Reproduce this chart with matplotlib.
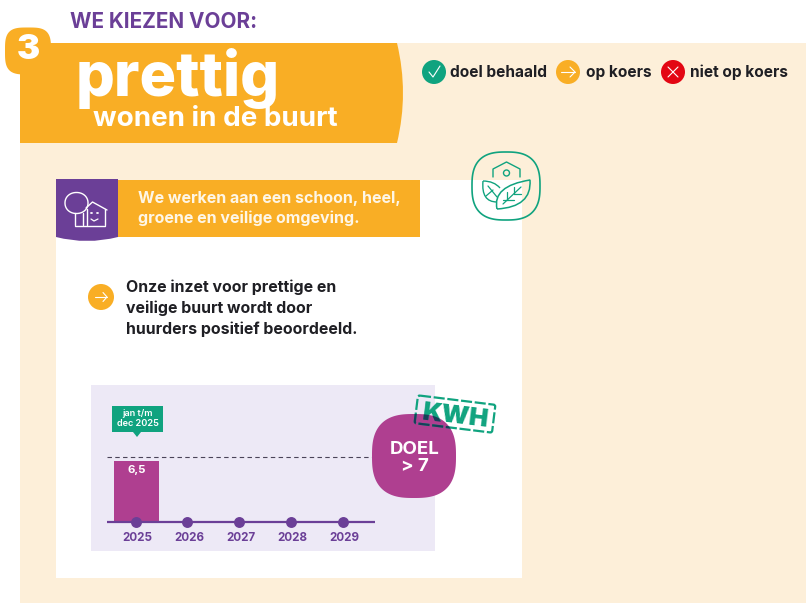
import numpy as np
import matplotlib
matplotlib.use("Agg")
import matplotlib.pyplot as plt
from matplotlib.patches import Rectangle, Circle, Polygon, PathPatch, FancyBboxPatch
from matplotlib.path import Path
from matplotlib.textpath import TextPath
from matplotlib.font_manager import FontProperties
from matplotlib.transforms import ScaledTranslation, Affine2D

# ---- data ----
years = ["2025", "2026", "2027", "2028", "2029"]
values = [6.5]
value_labels = ["6,5"]
goal = 7
goal_text = "DOEL\n> 7"
period_label = "jan t/m\ndec 2025"
legend_items = ["doel behaald", "op koers", "niet op koers"]

CREAM = "#FDEFD9"; ORANGE = "#F9AE25"; PURPLE = "#6B3F97"; MAGENTA = "#AF3F90"
GREEN = "#10A37F"; LAV = "#EDE9F6"; RED = "#E30613"; DARK = "#1F1F24"
FONT = "Inter"
plt.rcParams["font.family"] = [FONT, "DejaVu Sans"]

W, H = 806, 603
fig = plt.figure(figsize=(W / 100, H / 100), dpi=100, facecolor="white")


def pixel_axes(z):
    a = fig.add_axes([0, 0, 1, 1], zorder=z)
    a.set_xlim(0, W); a.set_ylim(H, 0); a.axis("off"); a.patch.set_alpha(0)
    return a


back = pixel_axes(0)
front = pixel_axes(2)


def blob(a, cx, cy, rx, ry, color=None, n=3.0, ec="none", lw=0, z=3):
    t = np.linspace(0, 2 * np.pi, 200)
    x = rx * np.sign(np.cos(t)) * np.abs(np.cos(t)) ** (2 / n)
    y = ry * np.sign(np.sin(t)) * np.abs(np.sin(t)) ** (2 / n)
    p = Polygon(np.c_[cx + x, cy + y], closed=True, fc=color or "none", ec=ec, lw=lw, zorder=z)
    a.add_patch(p)
    return p


def line(a, xs, ys, c, lw=1.2, z=6):
    a.plot(xs, ys, color=c, lw=lw, solid_capstyle="round", solid_joinstyle="round", zorder=z)


def curve(a, pts, c, lw=1.1, z=6):
    """Chain of quadratic curves: start, ctrl, end, ctrl, end ..."""
    codes = [Path.MOVETO] + [Path.CURVE3] * (len(pts) - 1)
    a.add_patch(PathPatch(Path(pts, codes), fc="none", ec=c, lw=lw, zorder=z))


# ---- page background ----
back.add_patch(Rectangle((20, 43), W - 20, H - 43, fc=CREAM, ec="none", zorder=1))
# banner
verts = [(20, 43), (397, 43), (409, 93), (397, 143), (20, 143), (20, 43)]
codes = [Path.MOVETO, Path.LINETO, Path.CURVE3, Path.CURVE3, Path.LINETO, Path.CLOSEPOLY]
back.add_patch(PathPatch(Path(verts, codes), fc=ORANGE, ec="none", zorder=2))
blob(back, 28, 51, 23, 23.5, ORANGE, n=3.4)
back.text(28.5, 50, "3", color="white", fontsize=25, fontweight="black", ha="center", va="center", zorder=4)
back.text(70, 22, "WE KIEZEN VOOR:", color=PURPLE, fontsize=14.9, fontweight="bold", ha="left", va="center", zorder=4)
back.text(76, 96, "prettig", color="white", fontsize=44, fontweight="heavy", ha="left", va="baseline", zorder=4)
back.text(93, 126.5, "wonen in de buurt", color="white", fontsize=20, fontweight="bold", ha="left", va="baseline", zorder=4)

# ---- legend ----
cx_leg = [434, 568, 673]
tx_leg = [450, 586, 690]
col_leg = [GREEN, ORANGE, RED]
for cx, tx, col, lab in zip(cx_leg, tx_leg, col_leg, legend_items):
    back.add_patch(Circle((cx, 72), 12, fc=col, ec="none", zorder=4))
    back.text(tx, 72.5, lab, color=DARK, fontsize=11.1, fontweight="bold", ha="left", va="center", zorder=4)
line(back, [429, 433, 440], [72, 77, 66], "white", 0.8)
line(back, [561, 575], [72, 72], "white", 0.8)
line(back, [570, 575, 570], [67, 72, 77], "white", 0.8)
line(back, [668, 678], [67, 77], "white", 0.8)
line(back, [668, 678], [77, 67], "white", 0.8)

# ---- card ----
back.add_patch(Rectangle((56, 180), 466, 398, fc="white", ec="none", zorder=2))
back.add_patch(Rectangle((118, 180), 302, 57, fc=ORANGE, ec="none", zorder=3))
pv = [(56, 179), (118, 179), (118, 237), (87, 245), (56, 237), (56, 179)]
pc = [Path.MOVETO, Path.LINETO, Path.LINETO, Path.CURVE3, Path.CURVE3, Path.CLOSEPOLY]
back.add_patch(PathPatch(Path(pv, pc), fc=PURPLE, ec="none", zorder=3))
back.text(138, 198, "We werken aan een schoon, heel,", color="#FEF6E6", fontsize=11.5, fontweight="bold", ha="left", va="center", zorder=4)
back.text(138, 218.5, "groene en veilige omgeving.", color="#FEF6E6", fontsize=11.5, fontweight="bold", ha="left", va="center", zorder=4)
# tree + house icon
blob(back, 76.5, 203, 11.5, 10.5, None, n=2.1, ec="white", lw=1.0, z=5)
line(back, [75, 75], [213, 225], "white", 1.0)
line(back, [83, 83], [213, 225], "white", 1.0)
line(back, [75, 105], [225.5, 225.5], "white", 1.0)
line(back, [86, 92.5, 107], [208, 202, 210], "white", 1.0)
line(back, [87, 87], [209, 225], "white", 1.0)
line(back, [105, 105], [209, 225], "white", 1.0)
line(back, [91, 91.5], [213, 213], "white", 1.3)
line(back, [97, 97.5], [213, 213], "white", 1.3)
line(back, [91, 94, 98], [219, 221, 219], "white", 0.9)

# goal statement
back.add_patch(Circle((101, 297), 13, fc=ORANGE, ec="none", zorder=4))
line(back, [95, 107], [297, 297], "white", 0.8)
line(back, [103, 107, 103], [292.5, 297, 301.5], "white", 0.8)
for y, s in zip([287, 308, 329], ["Onze inzet voor prettige en", "veilige buurt wordt door", "huurders positief beoordeeld."]):
    back.text(126, y, s, color=DARK, fontsize=11.45, fontweight="bold", ha="left", va="center", zorder=4)

# green leaf icon
blob(front, 506, 186, 34, 34, None, n=2.7, ec=GREEN, lw=1.2, z=6)
line(front, [493, 493, 506.5, 520, 520], [177, 169, 162, 169, 177], GREEN, 1.0)
front.add_patch(Circle((506.5, 173), 3, fc="none", ec=GREEN, lw=1.0, zorder=6))
curve(front, [(497, 209), (492, 186), (530, 180), (532, 207), (497, 209)], GREEN, 1.1)
line(front, [503, 521], [204, 187], GREEN, 0.9)
line(front, [507, 507], [192, 200], GREEN, 0.9)
line(front, [503, 514], [200, 200], GREEN, 0.9)
line(front, [514, 514], [187, 194], GREEN, 0.9)
line(front, [514, 521], [194, 194], GREEN, 0.9)
curve(front, [(483, 181), (481, 202), (497, 202)], GREEN, 1.0)
curve(front, [(483, 181), (494, 181), (500, 188)], GREEN, 1.0)
line(front, [488, 497], [186, 197], GREEN, 0.9)
line(front, [486, 493], [196, 190], GREEN, 0.9)

# ---- chart panel ----
back.add_patch(Rectangle((91, 385), 344, 166, fc=LAV, ec="none", zorder=4))

# data axes: x index 0..4 spaced 51.7 px, y scale about 9.35 px per unit
ax_l, ax_r, ax_b, ax_t = 107, 375, 522, 400
ax = fig.add_axes([ax_l / W, 1 - ax_b / H, (ax_r - ax_l) / W, (ax_b - ax_t) / H], zorder=1)
ax.patch.set_alpha(0)
step = 51.7
ax.set_xlim((ax_l - 135.7) / step, (ax_r - 135.7) / step)
ax.set_ylim(0, (ax_b - ax_t) / 9.35)
positions = np.arange(len(years))
bars = ax.bar(positions[:len(values)] + 0.015, values, width=0.87, color=MAGENTA, zorder=2)
for b, lab in zip(bars, value_labels):
    ax.annotate(lab, (b.get_x() + b.get_width() / 2, b.get_height()), xytext=(0, -6.5), textcoords="offset points",
                ha="center", va="center", color="white", fontsize=8.2, fontweight="bold")
ax.axhline(goal, color="#4A4458", lw=0.8, dashes=(4, 3), zorder=1)
ax.scatter(positions, np.zeros(len(years)), s=62, color=PURPLE, zorder=4, clip_on=False, linewidths=0)
for s in ["top", "left", "right"]:
    ax.spines[s].set_visible(False)
ax.spines["bottom"].set_color(PURPLE); ax.spines["bottom"].set_linewidth(1.6)
ax.spines["bottom"].set_capstyle("butt")
ax.set_yticks([])
ax.set_xticks(positions, years)
ax.tick_params(axis="x", length=0, pad=7.5, labelcolor=PURPLE, labelsize=8.4)
off = ScaledTranslation(1.2 / 72, 0, fig.dpi_scale_trans)
for t in ax.get_xticklabels():
    t.set_fontweight("bold")
    t.set_transform(t.get_transform() + off)

# period tag
front.add_patch(Rectangle((112, 406), 51, 26, fc=GREEN, ec="none", zorder=5))
front.add_patch(Polygon([(133, 432), (141, 432), (137, 437)], fc=GREEN, ec="none", zorder=5))
front.text(137.5, 418.5, period_label, color="white", fontsize=6.6, fontweight="semibold", ha="center", va="center",
           linespacing=1.05, zorder=6)

# goal blob
goal_blob = blob(front, 414, 456, 42, 42, MAGENTA, n=2.7, z=4)
front.text(415, 458, goal_text, color="white", fontsize=13.4, fontweight="bold", ha="center", va="center",
           linespacing=1.05, zorder=5)

# KWH stamp: green real text, with a dark print-through where it overlaps the blob
INK = "#17405A"
tr = Affine2D().rotate_deg_around(455, 414, 7) + front.transData
front.add_patch(FancyBboxPatch((416, 400), 78, 28, boxstyle="round,pad=0,rounding_size=2", fc="none", ec=GREEN,
                               lw=1.6, ls=(0, (5, 1.2)), transform=tr, zorder=6))
dark_box = FancyBboxPatch((416, 400), 78, 28, boxstyle="round,pad=0,rounding_size=2", fc="none", ec=INK,
                          lw=1.6, ls=(0, (5, 1.2)), transform=tr, zorder=7)
front.add_patch(dark_box)
dark_box.set_clip_path(goal_blob)
front.text(455, 423.5, "KWH", color=GREEN, fontsize=18.5, fontweight="black", rotation=-7,
           rotation_mode="anchor", ha="center", va="baseline", zorder=6)
tp = TextPath((0, 0), "KWH", size=18.5 * 100 / 72, prop=FontProperties(family=FONT, weight="black"))
ext = tp.get_extents()
tp_tr = Affine2D().translate(-(ext.x0 + ext.x1) / 2, 0).scale(1, -1).rotate_deg(7).translate(455, 423.5)
dark_txt = PathPatch(tp, fc=INK, ec="none", transform=tp_tr + front.transData, zorder=7)
front.add_patch(dark_txt)
dark_txt.set_clip_path(goal_blob)

fig.savefig("out.png", dpi=100)
